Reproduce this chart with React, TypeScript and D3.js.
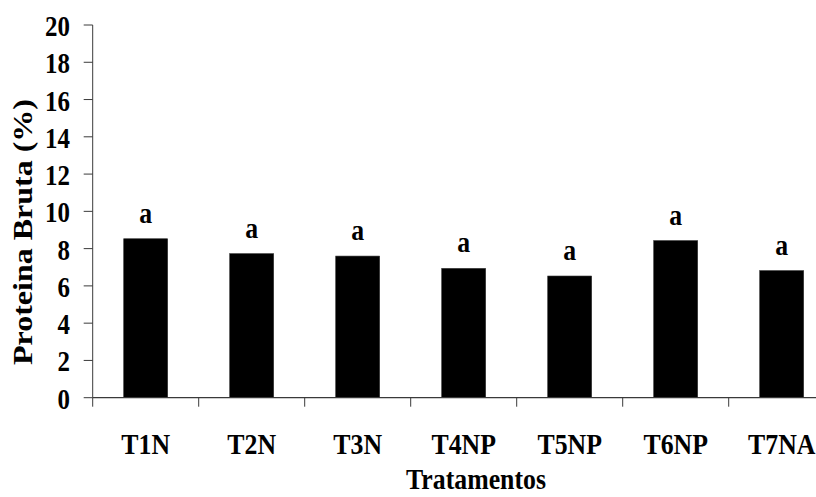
import * as d3 from 'd3'

const categories = ['T1N', 'T2N', 'T3N', 'T4NP', 'T5NP', 'T6NP', 'T7NA']
const values = [8.53, 7.73, 7.6, 6.94, 6.53, 8.43, 6.82]
const letters = ['a', 'a', 'a', 'a', 'a', 'a', 'a']
const yTicks = [0, 2, 4, 6, 8, 10, 12, 14, 16, 18, 20]

const W = 816
const H = 497
const FONT = "'Liberation Serif', 'Times New Roman', serif"
const SX = 0.86 // horizontal squeeze of the original picture
const AXIS = '#3a3a3a'

export default function App() {
  const x0 = 92.7
  const step = 106
  const x = d3.scaleBand<string>()
    .domain(categories)
    .range([x0, x0 + step * categories.length])
    .paddingInner(0.585)
    .paddingOuter(0.2925)
  const y = d3.scaleLinear().domain([0, 20]).range([397.7, 25])

  const boundaries = d3.range(categories.length + 1).map(i => x0 + i * x.step())

  return (
    <svg width={W} height={H}
      style={{ position: 'absolute', left: 0, top: 0, background: '#fff', fontFamily: FONT, fontWeight: 'bold' }}>
      {/* bars */}
      {categories.map((c, i) => (
        <rect key={c} x={x(c)} y={y(values[i])} width={x.bandwidth()} height={y(0) - y(values[i])}
          fill="#000" stroke="#333" strokeWidth={0.6} />
      ))}

      {/* significance letters */}
      {categories.map((c, i) => (
        <text key={c} transform={`translate(${x(c)! + x.bandwidth() / 2},${y(values[i]) - 16}) scale(${SX},1)`}
          textAnchor="middle" fontSize={30} fill="#000">{letters[i]}</text>
      ))}

      {/* y axis */}
      <line x1={x0} x2={x0} y1={y(20)} y2={y(0)} stroke={AXIS} strokeWidth={1} />
      {yTicks.map(t => (
        <g key={t}>
          <line x1={x0 - 9} x2={x0} y1={y(t)} y2={y(t)} stroke={AXIS} strokeWidth={1} />
          <text transform={`translate(70,${y(t) + 11}) scale(${SX},1)`} textAnchor="end" fontSize={29} fill="#000">{t}</text>
        </g>
      ))}

      {/* x axis */}
      <line x1={x0} x2={W} y1={y(0)} y2={y(0)} stroke={AXIS} strokeWidth={1.2} />
      {boundaries.map(b => (
        <line key={b} x1={b} x2={b} y1={y(0)} y2={y(0) + 9} stroke={AXIS} strokeWidth={1} />
      ))}
      {categories.map(c => (
        <text key={c} transform={`translate(${x(c)! + x.bandwidth() / 2},454) scale(${SX},1)`}
          textAnchor="middle" fontSize={30} fill="#000">{c}</text>
      ))}

      {/* axis titles */}
      <text transform={`translate(476,489) scale(${SX},1)`} textAnchor="middle" fontSize={30} fill="#000">Tratamentos</text>
      <text transform={`translate(32,232) rotate(-90) scale(1,${SX})`} textAnchor="middle" fontSize={32} fill="#000">Proteina Bruta (%)</text>
    </svg>
  )
}
